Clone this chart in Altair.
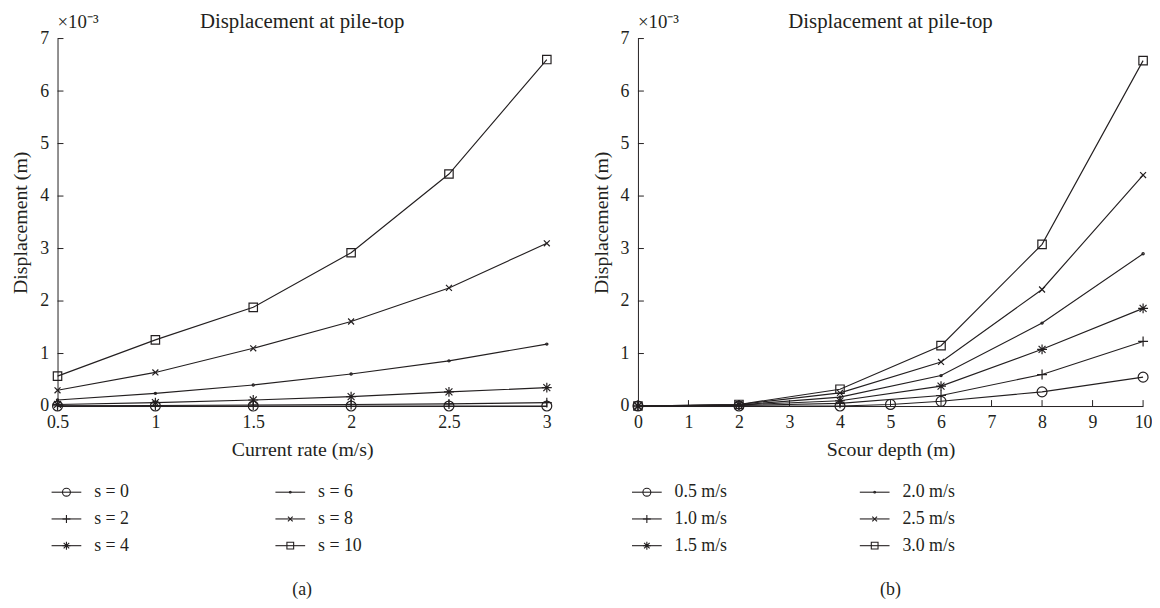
import altair as alt
import pandas as pd

# ---------------- data (displacement in units of 1e-3 m) ----------------
rate = [0.5, 1.0, 1.5, 2.0, 2.5, 3.0]
s_labels = ["s = 0", "s = 2", "s = 4", "s = 6", "s = 8", "s = 10"]
s0 = [0.0, 0.0, 0.0, 0.0, 0.0, 0.0]
s2 = [0.005, 0.01, 0.02, 0.03, 0.04, 0.065]
s4 = [0.03, 0.065, 0.115, 0.18, 0.27, 0.35]
s6 = [0.115, 0.24, 0.40, 0.61, 0.86, 1.18]
s8 = [0.30, 0.64, 1.10, 1.61, 2.25, 3.10]
s10 = [0.57, 1.26, 1.88, 2.92, 4.42, 6.60]

depth = [0, 2, 4, 6, 8, 10]
v_labels = ["0.5 m/s", "1.0 m/s", "1.5 m/s", "2.0 m/s", "2.5 m/s", "3.0 m/s"]
depth_v05 = [0, 2, 4, 5, 6, 8, 10]
v05 = [0.0, 0.0, 0.0, 0.03, 0.09, 0.27, 0.55]
v10 = [0.0, 0.01, 0.05, 0.20, 0.60, 1.23]
v15 = [0.0, 0.02, 0.10, 0.38, 1.08, 1.86]
v20 = [0.0, 0.02, 0.17, 0.58, 1.58, 2.90]
v25 = [0.0, 0.03, 0.25, 0.84, 2.22, 4.40]
v30 = [0.0, 0.03, 0.32, 1.15, 3.08, 6.58]

y_ticks = [0, 1, 2, 3, 4, 5, 6, 7]
xa_ticks = [0.5, 1, 1.5, 2, 2.5, 3]
xb_ticks = [0, 1, 2, 3, 4, 5, 6, 7, 8, 9, 10]
title_text = "Displacement at pile-top"

# ---------------- styling ----------------
INK = "#231f20"
FONT = "Liberation Serif"
CIRCLE = "M-1,0A1,1,0,1,1,1,0A1,1,0,1,1,-1,0Z"
PLUS = "M-1,0H1M0,-1V1"
STAR = "M-1,0H1M0,-1V1M-0.7,-0.7L0.7,0.7M-0.7,0.7L0.7,-0.7"
DOT = "M-0.22,0A0.22,0.22,0,1,1,0.22,0A0.22,0.22,0,1,1,-0.22,0Z"
XMARK = "M-0.6,-0.6L0.6,0.6M-0.6,0.6L0.6,-0.6"
SQUARE = "M-0.85,-0.85H0.85V0.85H-0.85Z"
SHAPES = [CIRCLE, PLUS, STAR, DOT, XMARK, SQUARE]

H = 371


def long_df(xs_list, ys_list, labels):
    rows = []
    for xs, ys, lab in zip(xs_list, ys_list, labels):
        for x, y in zip(xs, ys):
            rows.append({"x": x, "y": y, "series": lab})
    return pd.DataFrame(rows)


dfa = long_df([rate] * 6, [s0, s2, s4, s6, s8, s10], s_labels)
dfb = long_df([depth_v05] + [depth] * 5, [v05, v10, v15, v20, v25, v30], v_labels)


def panel(df, labels, xdomain, xticks, xtitle, xfmt, width, leg_x0, leg_dx, caption):
    xs = alt.Scale(domain=xdomain, nice=False, zero=False)
    ys = alt.Scale(domain=[0, 7], nice=False)
    shape_scale = alt.Scale(domain=labels, range=SHAPES)
    base = alt.Chart(df)
    xenc = alt.X("x:Q", scale=xs, axis=alt.Axis(values=xticks, format=xfmt, title=xtitle,
                                                ticks=False, grid=False, labelFlush=False,
                                                labelPadding=8, titlePadding=8))
    yenc = alt.Y("y:Q", scale=ys, axis=alt.Axis(values=y_ticks, format="d", title="Displacement (m)",
                                                ticks=False, grid=False, labelPadding=9,
                                                titlePadding=9))
    lines = base.mark_line(color=INK, strokeWidth=1.15).encode(
        x=xenc, y=yenc, detail="series:N", order="x:Q")
    pts = base.mark_point(filled=False, color=INK, size=100, strokeWidth=1.2, opacity=1).encode(
        x="x:Q", y="y:Q",
        shape=alt.Shape("series:N", scale=shape_scale, legend=None))
    xt = alt.Chart(pd.DataFrame({"t": xticks})).mark_rule(color=INK, strokeWidth=1).encode(
        x=alt.X("t:Q", scale=xs), y=alt.value(H), y2=alt.value(H - 6))
    yt = alt.Chart(pd.DataFrame({"t": y_ticks})).mark_rule(color=INK, strokeWidth=1).encode(
        y=alt.Y("t:Q", scale=ys), x=alt.value(0), x2=alt.value(6))
    expo = alt.Chart(pd.DataFrame({"t": ["×10⁻³"]})).mark_text(
        font=FONT, fontSize=19, color=INK, align="left", baseline="middle").encode(
        text="t:N", x=alt.value(0), y=alt.value(-17))
    ttl = alt.Chart(pd.DataFrame({"t": [title_text]})).mark_text(
        font=FONT, fontSize=21, color=INK, align="center", baseline="middle").encode(
        text="t:N", x=alt.value(width / 2), y=alt.value(-17))
    plot = alt.layer(lines, pts, xt, yt, expo, ttl).properties(width=width, height=H)

    # legend drawn from the series labels
    leg = pd.DataFrame({"series": labels,
                        "col": [i // 3 for i in range(6)],
                        "row": [i % 3 for i in range(6)]})
    lx = alt.Scale(domain=[0, 1], range=[leg_x0, leg_x0 + leg_dx])
    ly = alt.Scale(domain=[0, 2], range=[33, 87])
    lb = alt.Chart(leg)
    lrule = lb.mark_rule(color=INK, strokeWidth=1.1, xOffset=-15, x2Offset=15).encode(
        x=alt.X("col:Q", scale=lx, axis=None), y=alt.Y("row:Q", scale=ly, axis=None),
        x2=alt.X2("col:Q"))
    lpts = lb.mark_point(filled=False, color=INK, size=64, strokeWidth=1.1, opacity=1).encode(
        x=alt.X("col:Q", scale=lx, axis=None), y=alt.Y("row:Q", scale=ly, axis=None),
        shape=alt.Shape("series:N", scale=shape_scale, legend=None))
    ltxt = lb.mark_text(font=FONT, fontSize=18, color=INK, align="left", baseline="middle", dx=28).encode(
        x=alt.X("col:Q", scale=lx, axis=None), y=alt.Y("row:Q", scale=ly, axis=None),
        text="series:N")
    cap = alt.Chart(pd.DataFrame({"t": [caption]})).mark_text(
        font=FONT, fontSize=18, color=INK, align="center", baseline="middle").encode(
        text="t:N", x=alt.value(width / 2), y=alt.value(132))
    legend = alt.layer(lrule, lpts, ltxt, cap).properties(width=width, height=140)
    return alt.vconcat(plot, legend, spacing=0)


pa = panel(dfa, s_labels, [0.5, 3], xa_ticks, "Current rate (m/s)", "~g", 494, 9, 226, "(a)")
pb = panel(dfb, v_labels, [0, 10], xb_ticks, "Scour depth (m)", "d", 510, 9, 230, "(b)")

chart = alt.hconcat(pa, pb, spacing=37).properties(
    padding={"left": 3, "top": 0, "right": 0, "bottom": 0}).configure_view(
    stroke=None).configure_axis(
    domainColor=INK, domainWidth=1, labelColor=INK, titleColor=INK,
    labelFont=FONT, titleFont=FONT, labelFontSize=18, titleFontSize=20,
    titleFontWeight="normal").configure_concat(spacing=37)

chart.save("out.html", embed_options={"renderer": "svg", "actions": False})
